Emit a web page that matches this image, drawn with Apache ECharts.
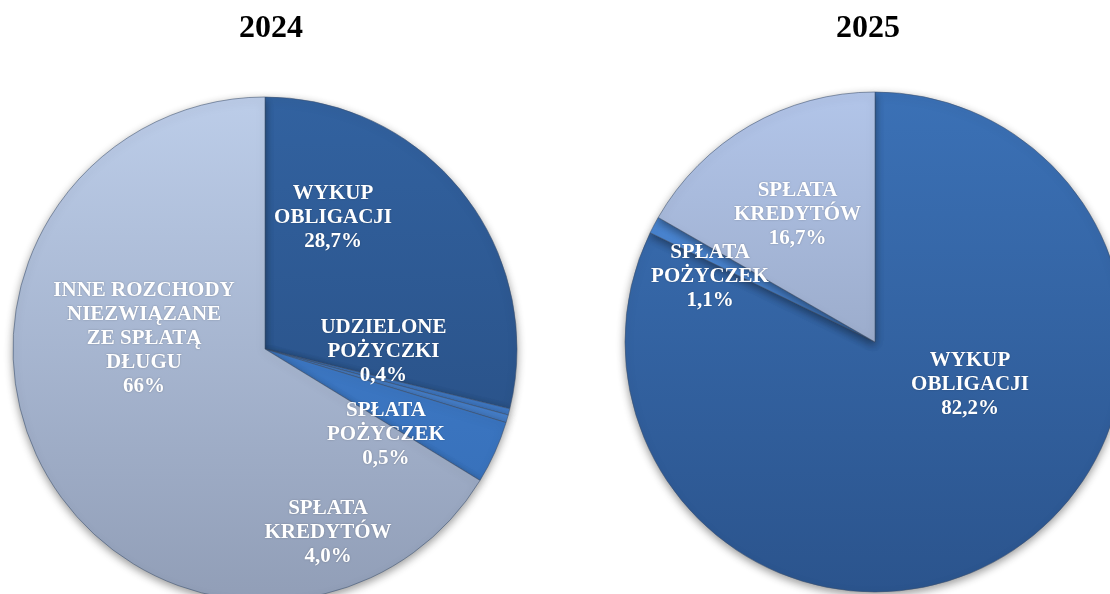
<!DOCTYPE html>
<html>
<head>
<meta charset="utf-8">
<script src="https://cdn.jsdelivr.net/npm/echarts@6/dist/echarts.min.js"></script>
<style>
  html, body { margin: 0; padding: 0; background: #fff; }
  #chart { width: 1110px; height: 594px; }
</style>
</head>
<body>
<div id="chart"></div>
<script>
// dane: struktura rozchodów 2024 / 2025
const names2024 = ['WYKUP\nOBLIGACJI', 'UDZIELONE\nPOŻYCZKI', 'SPŁATA\nPOŻYCZEK', 'SPŁATA\nKREDYTÓW', 'INNE ROZCHODY\nNIEZWIĄZANE\nZE SPŁATĄ\nDŁUGU']
const values2024 = [28.7, 0.4, 0.5, 4.0, 66]
const pctLabels2024 = ['28,7%', '0,4%', '0,5%', '4,0%', '66%']

const names2025 = ['WYKUP\nOBLIGACJI', 'SPŁATA\nPOŻYCZEK', 'SPŁATA\nKREDYTÓW']
const values2025 = [82.2, 1.1, 16.7]
const pctLabels2025 = ['82,2%', '1,1%', '16,7%']

const titles = ['2024', '2025']

const FONT = "'Liberation Serif', 'Times New Roman', serif"

// geometria obu kół
const pieL = { cx: 265, cy: 349, r: 252 }
const pieR = { cx: 875, cy: 342, r: 250 }

// środki etykiet w jednostkach promienia, względem środka koła
const labelPos2024 = [[0.27, -0.52], [0.47, 0.01], [0.48, 0.34], [0.25, 0.73], [-0.48, -0.04]]
const labelPos2025 = [[0.38, 0.17], [-0.66, -0.26], [-0.31, -0.51]]

/** pionowy gradient liczony dla całego koła */
function grad(pie, top, bottom) {
  return {
    type: 'linear', global: true,
    x: 0, y: pie.cy - pie.r, x2: 0, y2: pie.cy + pie.r,
    colorStops: [{ offset: 0, color: top }, { offset: 1, color: bottom }],
  }
}

const colors2024 = [
  grad(pieL, '#3262a0', '#264b7e'),
  grad(pieL, '#4a86d4', '#3a72bd'),
  grad(pieL, '#5590dc', '#3c74be'),
  grad(pieL, '#4583d3', '#346cb4'),
  grad(pieL, '#bccde9', '#919eb7'),
]
const colors2025 = [
  grad(pieR, '#3b71b6', '#2b548d'),
  grad(pieR, '#4f8cd9', '#3a70b8'),
  grad(pieR, '#b2c5e9', '#8694af'),
]

function buildData(names, values, cols) {
  return values.map((v, i) => ({ name: names[i], value: v, itemStyle: { color: cols[i] } }))
}

function pieSeries(pie, names, values, cols, pcts, pos) {
  return {
    type: 'pie',
    center: [pie.cx, pie.cy],
    radius: [0, pie.r],
    startAngle: 90,
    clockwise: true,
    silent: true,
    avoidLabelOverlap: false,
    data: buildData(names, values, cols),
    itemStyle: {
      borderColor: 'rgba(60,80,110,0.55)',
      borderWidth: 1,
      shadowBlur: 9,
      shadowColor: 'rgba(0,0,0,0.4)',
      shadowOffsetY: 3,
    },
    label: {
      show: true,
      position: 'inside',
      formatter: p => p.name + '\n' + pcts[p.dataIndex],
      color: '#fff',
      fontFamily: FONT,
      fontWeight: 'bold',
      fontSize: 21,
      lineHeight: 24,
      align: 'center',
      textShadowColor: 'rgba(0,0,0,0.25)',
      textShadowBlur: 2,
    },
    labelLine: { show: false },
    labelLayout: p => {
      const f = pos[p.dataIndex]
      return {
        x: pie.cx + f[0] * pie.r,
        y: pie.cy + f[1] * pie.r,
        align: 'center',
        verticalAlign: 'middle',
      }
    },
  }
}

const chart = echarts.init(document.getElementById('chart'), null, { renderer: 'canvas' })
chart.setOption({
  animation: false,
  backgroundColor: '#fff',
  title: [
    { text: titles[0], left: 266, top: 8, textAlign: 'center',
      textStyle: { fontFamily: FONT, fontWeight: 'bold', fontSize: 32, color: '#000' } },
    { text: titles[1], left: 863, top: 8, textAlign: 'center',
      textStyle: { fontFamily: FONT, fontWeight: 'bold', fontSize: 32, color: '#000' } },
  ],
  series: [
    pieSeries(pieL, names2024, values2024, colors2024, pctLabels2024, labelPos2024),
    pieSeries(pieR, names2025, values2025, colors2025, pctLabels2025, labelPos2025),
  ],
})
</script>
</body>
</html>
